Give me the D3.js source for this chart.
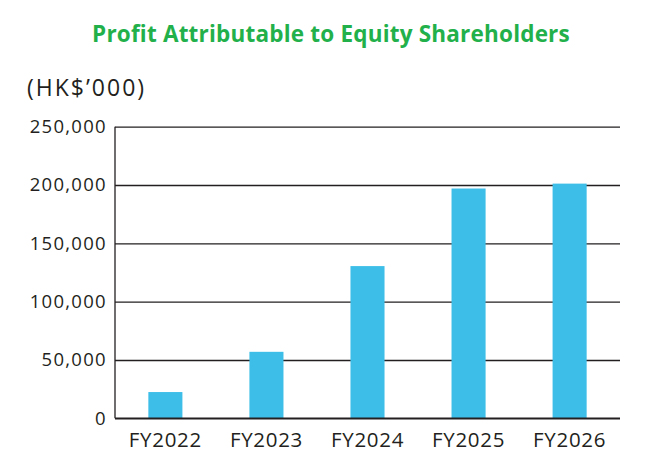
<!DOCTYPE html>
<html>
<head>
<meta charset="utf-8">
<script src="https://cdn.jsdelivr.net/npm/d3@7"></script>
<style>
  body { margin: 0; background: #fff; }
  text { font-family: "Open Sans", sans-serif; fill: #231f20; }
</style>
</head>
<body>
<div id="container"></div>
<script>
/* CONSTANTS AND GLOBALS */
const width = 648,
  height = 471,
  margin = { top: 126.7, bottom: 52.7, left: 115, right: 28 };

/* DATA */
const years = ["FY2022", "FY2023", "FY2024", "FY2025", "FY2026"];
const profit = [22500, 57000, 130500, 197000, 201200];
const yTicks = [0, 50000, 100000, 150000, 200000, 250000];

const data = years.map((y, i) => ({ year: y, value: profit[i] }));

/* SCALES */
const xScale = d3.scaleBand()
  .domain(years)
  .range([margin.left, width - margin.right])
  .paddingInner(0.663)
  .paddingOuter(0.33);

const yScale = d3.scaleLinear()
  .domain([0, 250000])
  .range([height - margin.bottom, margin.top]);

/* HTML ELEMENTS */
const svg = d3.select("#container")
  .append("svg")
  .attr("width", width)
  .attr("height", height);

// title
svg.append("text")
  .attr("x", 331)
  .attr("y", 42)
  .attr("text-anchor", "middle")
  .attr("font-size", 22.5)
  .attr("font-weight", 700)
  .attr("letter-spacing", 0.2)
  .style("fill", "#22b04b")
  .text("Profit Attributable to Equity Shareholders");

// unit
svg.append("text")
  .attr("x", 27)
  .attr("y", 96)
  .attr("font-size", 23)
  .attr("letter-spacing", 2)
  .text("(HK$\u2019000)");

// y axis with grid
const yAxis = d3.axisLeft(yScale)
  .tickValues(yTicks)
  .tickSize(-(width - margin.right - margin.left))
  .tickPadding(8)
  .tickFormat(d3.format(","));

const gy = svg.append("g")
  .attr("transform", `translate(${margin.left},0)`)
  .call(yAxis);

gy.select(".domain")
  .attr("stroke", "#231f20")
  .attr("stroke-width", 1.3)
  .attr("d", `M0,${yScale(250000)}V${yScale(0)}`);

gy.selectAll(".tick line")
  .attr("stroke", "#231f20")
  .attr("stroke-width", 1.3);

gy.selectAll(".tick text")
  .attr("font-size", 18.5)
  .attr("letter-spacing", 1.3)
  .attr("font-family", "Open Sans, sans-serif")
  .style("fill", "#231f20");

// bars
svg.selectAll("rect.bar")
  .data(data)
  .join("rect")
  .attr("class", "bar")
  .attr("x", d => xScale(d.year))
  .attr("y", d => yScale(d.value))
  .attr("width", xScale.bandwidth())
  .attr("height", d => yScale(0) - yScale(d.value))
  .attr("fill", "#3cbee8");

// baseline on top
svg.append("line")
  .attr("x1", margin.left)
  .attr("x2", width - margin.right)
  .attr("y1", yScale(0))
  .attr("y2", yScale(0))
  .attr("stroke", "#231f20")
  .attr("stroke-width", 1.6);

// x axis labels
const xAxis = d3.axisBottom(xScale).tickSize(0).tickPadding(14);
const gx = svg.append("g")
  .attr("transform", `translate(0,${yScale(0)})`)
  .call(xAxis);
gx.select(".domain").remove();
gx.selectAll(".tick text")
  .attr("font-size", 20.5)
  .attr("letter-spacing", 0.7)
  .attr("font-family", "Open Sans, sans-serif")
  .style("fill", "#231f20");
</script>
</body>
</html>
